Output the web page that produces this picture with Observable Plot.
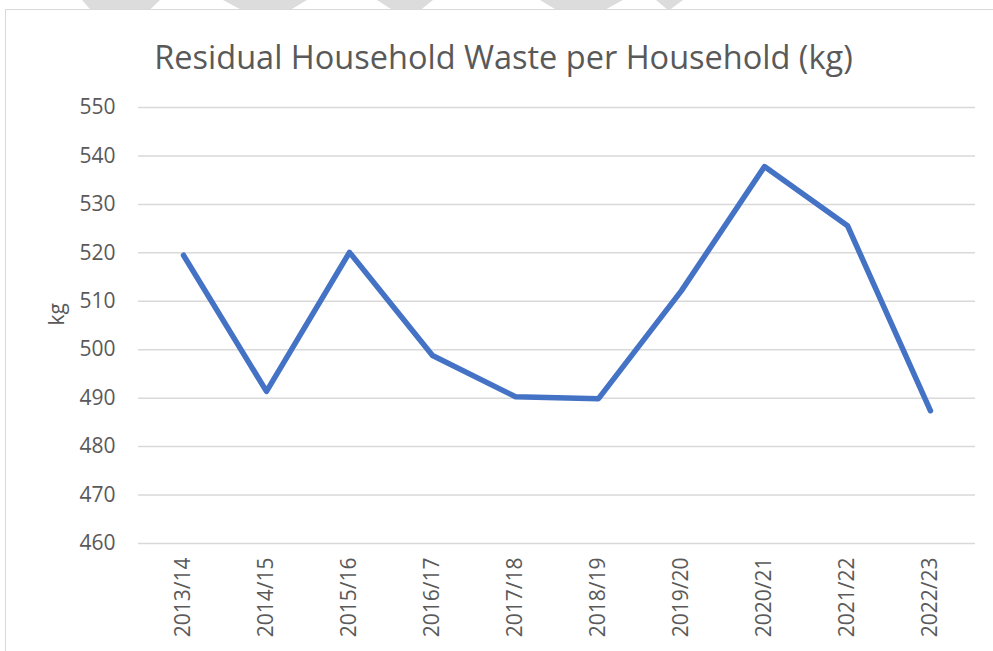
<!DOCTYPE html>
<html>
<head>
<meta charset="utf-8">
<script src="https://cdn.jsdelivr.net/npm/d3@7"></script>
<script src="https://cdn.jsdelivr.net/npm/@observablehq/plot@0.6"></script>
<style>
  body { margin: 0; background: #fff; font-family: "Open Sans", sans-serif; }
  #wrap { position: relative; width: 993px; height: 651px; overflow: hidden; background: #fff; }
  #frame { position: absolute; left: 5px; top: 9px; width: 1200px; height: 900px;
           border-left: 1.5px solid #d9d9d9; border-top: 1.5px solid #d9d9d9; }
  .stripe { position: absolute; top: 0; height: 9px; background: #dcdcdc; }
  #title { position: relative; height: 90px; box-sizing: border-box; padding-top: 38px;
           text-align: center; font-size: 32.5px; line-height: 38px; color: #595959; padding-left: 14px; }
  #chart { position: relative; }
</style>
</head>
<body>
<div id="wrap">
  <div id="frame"></div>
  <div class="stripe" style="left:82px;width:78px;clip-path:polygon(0 0,100% 0,88% 100%,10% 100%)"></div>
  <div class="stripe" style="left:223px;width:84px;clip-path:polygon(0 0,100% 0,82% 100%,20% 100%)"></div>
  <div class="stripe" style="left:377px;width:56px;clip-path:polygon(0 0,100% 0,80% 100%,25% 100%)"></div>
  <div class="stripe" style="left:540px;width:83px;clip-path:polygon(0 0,100% 0,80% 100%,18% 100%)"></div>
  <div class="stripe" style="left:656px;width:27px;clip-path:polygon(0 0,100% 0,55% 100%,40% 100%)"></div>
  <div id="title">Residual Household Waste per Household (kg)</div>
  <div id="chart"></div>
</div>
<script>
const years = ["2013/14","2014/15","2015/16","2016/17","2017/18","2018/19","2019/20","2020/21","2021/22","2022/23"];
const waste = [519.5, 491.4, 520.1, 498.8, 490.3, 489.9, 512.2, 537.8, 525.6, 487.4];
const yTicks = [460, 470, 480, 490, 500, 510, 520, 530, 540, 550];
const yLabel = "kg";

const data = years.map((year, i) => ({year, value: waste[i]}));

const chart = Plot.plot({
  width: 993,
  height: 561,
  marginTop: 17,
  marginBottom: 108,
  marginLeft: 138,
  marginRight: 18,
  style: {fontFamily: "Open Sans, sans-serif", fontSize: "21px", color: "#595959", background: "transparent", overflow: "visible"},
  x: {type: "point", domain: years, padding: 0.5},
  y: {domain: [460, 550]},
  marks: [
    Plot.gridY(yTicks, {stroke: "#d9d9d9", strokeOpacity: 1, strokeWidth: 1.5}),
    Plot.line(data, {x: "year", y: "value", stroke: "#4472C4", strokeWidth: 5.5,
                     strokeLinecap: "round", strokeLinejoin: "round"}),
    Plot.axisY(yTicks, {tickSize: 0, tickPadding: 23, fontSize: 21, fill: "#595959", label: null}),
    Plot.axisX({tickSize: 0, tickRotate: -90, tickPadding: 14, fontSize: 21, fill: "#595959", label: null}),
    Plot.text([yLabel], {frameAnchor: "left", dx: -81, rotate: -90, text: d => d,
                         fontSize: 21, fill: "#595959"})
  ]
});
document.getElementById("chart").appendChild(chart);
</script>
</body>
</html>
